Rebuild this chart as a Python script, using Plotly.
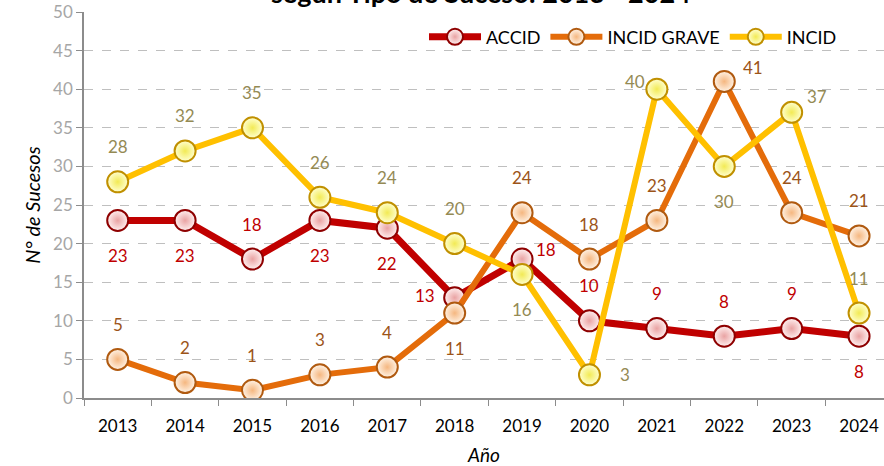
import plotly.graph_objects as go

years = ["2013", "2014", "2015", "2016", "2017", "2018", "2019", "2020", "2021", "2022", "2023", "2024"]
accid = [23, 23, 18, 23, 22, 13, 18, 10, 9, 8, 9, 8]
incid_grave = [5, 2, 1, 3, 4, 11, 24, 18, 23, 41, 24, 21]
incid = [28, 32, 35, 26, 24, 20, 16, 3, 40, 30, 37, 11]

# label placement codes per point
accid_pos = ["b", "b", "t", "b", "b", "l", "rt", "t", "t", "t", "t", "b"]
grave_pos = ["t", "t", "t", "t", "t", "b", "t", "t", "t", "tr", "t", "t"]
incid_pos = ["t", "t", "t", "t", "t", "t", "b", "r", "tl", "b", "tr2", "t"]

SHIFTS = {"t": (0, 35), "b": (0, -35), "l": (-30, 2), "r": (36, 0),
          "tr": (29, 14), "tl": (-22, 8), "rt": (24, 10), "tr2": (25, 16)}

FONT = "Lato"

series = [
    dict(name="ACCID", y=accid, pos=accid_pos, line="#C00000", width=7,
         mfill="#FFF0F0", mgrad="#E9A3A3", mborder="#8E0000", lab="#C00000"),
    dict(name="INCID GRAVE", y=incid_grave, pos=grave_pos, line="#E46C0A", width=6,
         mfill="#FFF3E6", mgrad="#F5B780", mborder="#B05A10", lab="#9C5418"),
    dict(name="INCID", y=incid, pos=incid_pos, line="#FFC000", width=6,
         mfill="#FFFFD0", mgrad="#F2EA55", mborder="#C09000", lab="#948A54"),
]

fig = go.Figure()
annotations = []
for s in series:
    fig.add_trace(go.Scatter(
        x=years, y=s["y"], name=s["name"], mode="lines+markers",
        line=dict(color=s["line"], width=s["width"]),
        marker=dict(size=21, color=s["mfill"],
                    gradient=dict(type="radial", color=s["mgrad"]),
                    line=dict(color=s["mborder"], width=2)),
    ))
    for i, (yv, p) in enumerate(zip(s["y"], s["pos"])):
        dx, dy = SHIFTS[p]
        annotations.append(dict(
            x=i, y=yv, xref="x", yref="y", text=str(yv), showarrow=False,
            xshift=dx, yshift=dy, font=dict(family=FONT, size=17, color=s["lab"]),
        ))

annotations.append(dict(
    x=(481 - 84) / 800, y=1, xref="paper", yref="paper", xanchor="center", yanchor="bottom",
    text="<b>según Tipo de Suceso: 2013 - 2024</b>", showarrow=False, yshift=1,
    font=dict(family=FONT, size=27, color="#000000"),
))

fig.update_layout(
    width=884, height=466,
    margin=dict(l=84, r=0, t=12, b=68, autoexpand=False),
    paper_bgcolor="white", plot_bgcolor="white",
    font=dict(family=FONT),
    annotations=annotations,
    showlegend=True,
    legend=dict(orientation="h", x=0.425, y=0.935, xanchor="left", yanchor="middle",
                font=dict(family=FONT, size=18, color="#000000"), itemwidth=52,
                bgcolor="rgba(0,0,0,0)", tracegroupgap=0),
    xaxis=dict(
        type="category", range=[-0.5, 11.37], showgrid=False, automargin=False,
        showline=True, linecolor="#8C8C8C", linewidth=1.5,
        ticks="outside", tickson="boundaries", ticklen=6, tickcolor="#8C8C8C",
        tickfont=dict(family=FONT, size=17, color="#000000"),
        ticklabelstandoff=12,
        title=dict(text="<i>Año</i>", font=dict(family=FONT, size=19, color="#000000"), standoff=15),
    ),
    yaxis=dict(
        range=[0, 50], dtick=5, tick0=0, automargin=False,
        showgrid=True, gridcolor="#BFBFBF", griddash="dash", gridwidth=1,
        showline=True, linecolor="#8C8C8C", linewidth=1.5,
        ticks="outside", ticklen=6, tickcolor="#8C8C8C",
        tickfont=dict(family=FONT, size=17, color="#A6A6A6"),
        zeroline=False,
        title=dict(text="<i>N° de Sucesos</i>", font=dict(family=FONT, size=20, color="#000000"), standoff=7),
    ),
)

fig.write_html("out.html", config={"displayModeBar": False},
               post_script="document.body.style.margin='0px';")
